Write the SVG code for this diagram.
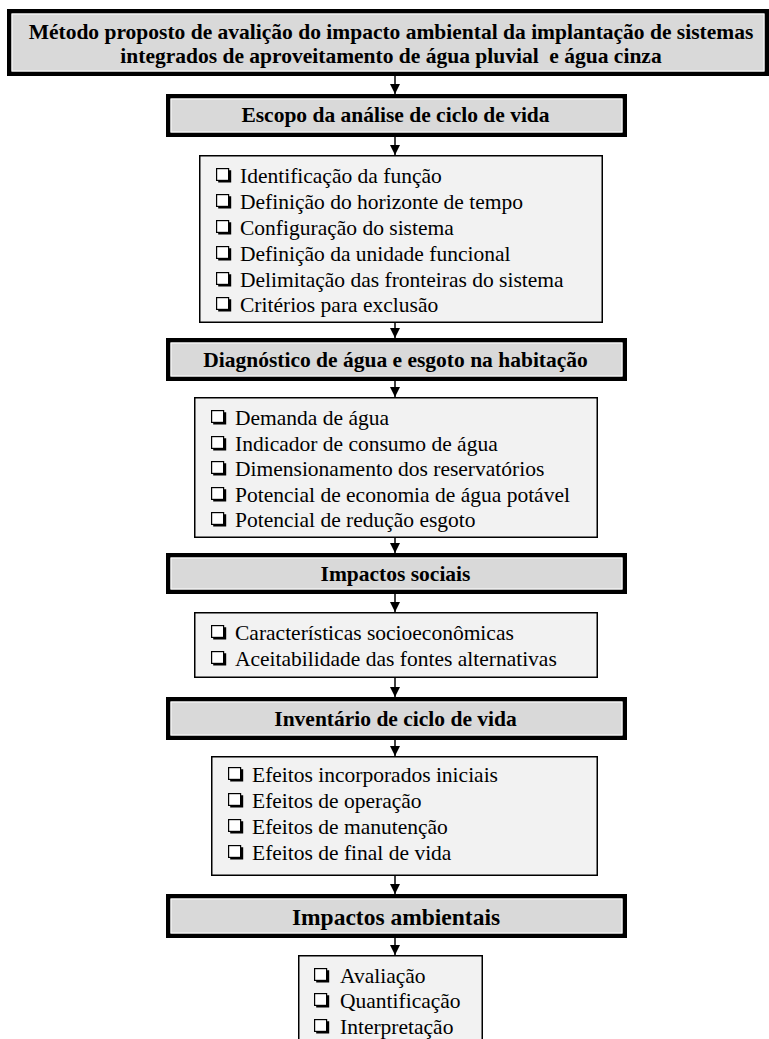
<svg xmlns="http://www.w3.org/2000/svg" xmlns:xlink="http://www.w3.org/1999/xlink" width="769" height="1039" viewBox="0 0 769 1039">
<style>
.hd{fill:#d9d9d9;stroke:#000;stroke-width:4.5}
.hi{fill:none;stroke:#fff;stroke-width:1}
.ls{fill:#f2f2f2;stroke:#000;stroke-width:1.5}
.ht{font-family:"Liberation Serif","Times New Roman",serif;font-weight:bold;font-size:21.5px;fill:#000;text-anchor:middle}
.it{font-family:"Liberation Serif","Times New Roman",serif;font-size:21.5px;fill:#000}
.cn{stroke:#000;stroke-width:1.5;fill:none;marker-end:url(#ah)}
</style>
<defs>
<marker id="ah" viewBox="0 0 10 10" refX="10" refY="5" markerWidth="10" markerHeight="10" markerUnits="userSpaceOnUse" orient="auto">
<path d="M0,0 L10,5 L0,10 z" fill="#000"/>
</marker>
<g id="cbx">
<rect x="0.6" y="0.6" width="12" height="11.8" fill="#fff" stroke="#000" stroke-width="1.2"/>
<path d="M12.6,2.2 H15.2 V14.6 H2.2 V12.4 H12.6 Z" fill="#000"/>
</g>
</defs>
<rect width="769" height="1039" fill="#fff"/>
<g id="connectors">
<line class="cn" x1="395" y1="76" x2="395" y2="94"/>
<line class="cn" x1="395" y1="137" x2="395" y2="155"/>
<line class="cn" x1="395" y1="323" x2="395" y2="338"/>
<line class="cn" x1="395" y1="381" x2="395" y2="397"/>
<line class="cn" x1="395" y1="538" x2="395" y2="553"/>
<line class="cn" x1="395" y1="594" x2="395" y2="612"/>
<line class="cn" x1="395" y1="678" x2="395" y2="697"/>
<line class="cn" x1="395" y1="740" x2="395" y2="756"/>
<line class="cn" x1="395" y1="876" x2="395" y2="894"/>
<line class="cn" x1="395" y1="938" x2="395" y2="955"/>
</g>
<g id="title">
<rect class="hd" x="9.25" y="11.25" width="757.5" height="62.5"/>
<rect class="hi" x="12" y="14" width="752" height="57"/>
<text class="ht" x="391" y="39">Método proposto de avalição do impacto ambiental da implantação de sistemas</text>
<text class="ht" x="391" y="63" xml:space="preserve">integrados de aproveitamento de água pluvial  e água cinza</text>
</g>
<g id="escopo">
<rect class="hd" x="168.25" y="96.25" width="456.5" height="38.5"/>
<rect class="hi" x="171" y="99" width="451" height="33"/>
<text class="ht" x="395.5" y="122">Escopo da análise de ciclo de vida</text>
</g>
<g id="lista-escopo">
<rect class="ls" x="199.75" y="155.75" width="402.5" height="166.5"/>
<use xlink:href="#cbx" x="216" y="168"/><text class="it" x="240" y="183">Identificação da função</text>
<use xlink:href="#cbx" x="216" y="194"/><text class="it" x="240" y="209">Definição do horizonte de tempo</text>
<use xlink:href="#cbx" x="216" y="220"/><text class="it" x="240" y="235">Configuração do sistema</text>
<use xlink:href="#cbx" x="216" y="246"/><text class="it" x="240" y="261">Definição da unidade funcional</text>
<use xlink:href="#cbx" x="216" y="272"/><text class="it" x="240" y="287">Delimitação das fronteiras do sistema</text>
<use xlink:href="#cbx" x="216" y="297"/><text class="it" x="240" y="312">Critérios para exclusão</text>
</g>
<g id="diagnostico">
<rect class="hd" x="168.25" y="340.25" width="456.5" height="38.5"/>
<rect class="hi" x="171" y="343" width="451" height="33"/>
<text class="ht" x="395.5" y="367">Diagnóstico de água e esgoto na habitação</text>
</g>
<g id="lista-diagnostico">
<rect class="ls" x="194.75" y="397.75" width="402.5" height="139.5"/>
<use xlink:href="#cbx" x="211" y="410"/><text class="it" x="235" y="425">Demanda de água</text>
<use xlink:href="#cbx" x="211" y="436"/><text class="it" x="235" y="451">Indicador de consumo de água</text>
<use xlink:href="#cbx" x="211" y="461"/><text class="it" x="235" y="476">Dimensionamento dos reservatórios</text>
<use xlink:href="#cbx" x="211" y="487"/><text class="it" x="235" y="502">Potencial de economia de água potável</text>
<use xlink:href="#cbx" x="211" y="512"/><text class="it" x="235" y="527">Potencial de redução esgoto</text>
</g>
<g id="sociais">
<rect class="hd" x="168.25" y="555.25" width="456.5" height="36.5"/>
<rect class="hi" x="171" y="558" width="451" height="31"/>
<text class="ht" x="395.5" y="581">Impactos sociais</text>
</g>
<g id="lista-sociais">
<rect class="ls" x="194.75" y="612.75" width="402.5" height="64.5"/>
<use xlink:href="#cbx" x="211" y="625"/><text class="it" x="235" y="640">Características socioeconômicas</text>
<use xlink:href="#cbx" x="211" y="651"/><text class="it" x="235" y="666">Aceitabilidade das fontes alternativas</text>
</g>
<g id="inventario">
<rect class="hd" x="168.25" y="699.25" width="456.5" height="38.5"/>
<rect class="hi" x="171" y="702" width="451" height="33"/>
<text class="ht" x="395.5" y="726">Inventário de ciclo de vida</text>
</g>
<g id="lista-inventario">
<rect class="ls" x="211.75" y="756.75" width="385.5" height="118.5"/>
<use xlink:href="#cbx" x="228" y="767"/><text class="it" x="252" y="782">Efeitos incorporados iniciais</text>
<use xlink:href="#cbx" x="228" y="793"/><text class="it" x="252" y="808">Efeitos de operação</text>
<use xlink:href="#cbx" x="228" y="819"/><text class="it" x="252" y="834">Efeitos de manutenção</text>
<use xlink:href="#cbx" x="228" y="845"/><text class="it" x="252" y="860">Efeitos de final de vida</text>
</g>
<g id="ambientais">
<rect class="hd" x="168.25" y="896.25" width="456.5" height="39.5"/>
<rect class="hi" x="171" y="899" width="451" height="34"/>
<text class="ht" x="396" y="925" style="font-size:23.5px">Impactos ambientais</text>
</g>
<g id="lista-ambientais">
<rect class="ls" x="298.75" y="955.75" width="183.5" height="90"/>
<use xlink:href="#cbx" x="314" y="968"/><text class="it" x="340" y="983">Avaliação</text>
<use xlink:href="#cbx" x="314" y="993"/><text class="it" x="340" y="1008">Quantificação</text>
<use xlink:href="#cbx" x="314" y="1019"/><text class="it" x="340" y="1034">Interpretação</text>
</g>
</svg>
